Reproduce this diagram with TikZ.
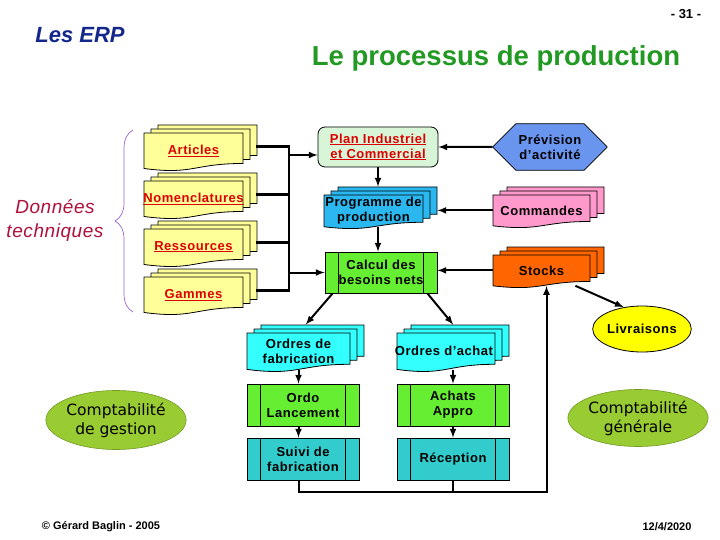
\documentclass[tikz,border=0pt]{standalone}
\usepackage{fontspec}
\setmainfont{Liberation Sans}
\newfontfamily\verdana{DejaVu Sans}
\usetikzlibrary{arrows}
\usetikzlibrary{shapes.geometric,shapes.misc}
\usetikzlibrary{decorations.pathreplacing}
\newcommand\ulab[1]{\textcolor{labred}{\underline{#1}}}

\begin{document}
\begin{tikzpicture}[x=1pt,y=-1pt,
    boxfont/.style={font=\fontsize{13}{15}\selectfont\bfseries\addfontfeatures{LetterSpace=4}},
    stacklayer/.style={draw=black,line width=.8pt},
    stacknode/.style={boxfont,inner sep=0pt,align=center},
    procbox/.style={boxfont,draw,line width=.8pt,minimum width=112,minimum height=42,inner sep=0pt,align=center,
      path picture={\draw[line width=.8pt] ([xshift=13.5pt]path picture bounding box.north west) -- ([xshift=13.5pt]path picture bounding box.south west)
        ([xshift=-13.5pt]path picture bounding box.north east) -- ([xshift=-13.5pt]path picture bounding box.south east);}},
    compta/.style={ellipse,fill=compgreen,draw=compgreen!75!black,line width=.6pt,inner sep=0pt,align=center,
      font=\verdana\fontsize{15.5}{19}\selectfont},
    arr/.style={line width=2pt,-latex},
    busline/.style={line width=2.8pt,line cap=rect}]
    \definecolor{labred}{HTML}{DD0000}
    \definecolor{docyel}{HTML}{FFFF99}
    \definecolor{picgreen}{HTML}{D8F5D8}
    \definecolor{progblue}{HTML}{2BB8F0}
    \definecolor{prevblue}{HTML}{6A95EE}
    \definecolor{cmdpink}{HTML}{FF99CC}
    \definecolor{stkorange}{HTML}{FF6600}
    \definecolor{calcgreen}{HTML}{66EE33}
    \definecolor{ordcyan}{HTML}{33FFFF}
    \definecolor{suiviteal}{HTML}{33CCCC}
    \definecolor{livyellow}{HTML}{FFFF00}
    \definecolor{compgreen}{HTML}{99CC33}
    \definecolor{titlegreen}{HTML}{229922}
    \definecolor{erpblue}{HTML}{14288C}
    \definecolor{techred}{HTML}{B0103A}
    \definecolor{bracecol}{HTML}{9966CC}
    \fill[white] (0,0) rectangle (720,540);
    \useasboundingbox (0,0) rectangle (720,540);

    % en-tete
    \node[font=\fontsize{22}{24}\selectfont\bfseries\itshape,text=erpblue] (erp) at (80,35) {Les ERP};
    \node[font=\fontsize{13}{15}\selectfont\bfseries] (page) at (686,14) {- 31 -};
    \node[font=\fontsize{27.5}{30}\selectfont\bfseries,text=titlegreen] (titre) at (496,58) {Le processus de production};

    % donnees techniques
    \node[font=\fontsize{19}{24}\selectfont\itshape\addfontfeatures{LetterSpace=3},text=techred,align=center] (donnees) at (55,220) {Données\\techniques};
    \draw[bracecol,line width=.7pt,decorate,decoration={brace,amplitude=18pt}] (133,312) -- (133,130);

    % piles de documents
    \foreach \name/\x/\y/\w/\h/\col/\txt in
    {
      art/144/133/99/38/docyel/{\ulab{Articles}},
      nom/144/181/99/38/docyel/{\ulab{Nomenclatures}},
      res/144/229/99/38/docyel/{\ulab{Ressources}},
      gam/144/277/99/38/docyel/{\ulab{Gammes}},
      prog/324/195/99/34/progblue/{Programme de\\production},
      cmd/493/195/97/33/cmdpink/{Commandes},
      stk/493/255/97/33/stkorange/{Stocks},
      ofab/247/333/103/39/ordcyan/{Ordres de\\fabrication},
      oach/397/333/98/39/ordcyan/{Ordres d’achat}
    }
    {
      \foreach \k in {2,1,0}
      {
        \begin{scope}[shift={(\x+7*\k,\y-4*\k)}]
          \filldraw[stacklayer,fill=\col] (0,0) -- (\w,0) -- (\w,0.802*\h) .. controls (0.5*\w,0.802*\h) and (0.5*\w,1.107*\h) .. (0,0.934*\h) -- cycle;
        \end{scope}
      }
      \node[stacknode,minimum width=\w,minimum height=0.933*\h] (\name) at (\x+0.5*\w,\y+0.4665*\h) {\txt};
      \node[inner sep=0pt,minimum width=\w+14,minimum height=0.933*\h+8,anchor=south west] (\name-b) at (\x,\y+0.933*\h) {};
    };

    % boites
    \node[boxfont,draw,line width=.8pt,rounded corners=7pt,fill=picgreen,minimum width=120,minimum height=40,inner sep=0pt,align=center] (pic) at (378,147) {\ulab{Plan Industriel}\\\ulab{et Commercial}};
    \node[boxfont,draw,line width=.8pt,chamfered rectangle,chamfered rectangle xsep=12pt,chamfered rectangle ysep=11pt,fill=prevblue,minimum width=114,minimum height=42,inner sep=0pt,align=center] (prev) at (550,147) {Prévision\\d’activité};
    \node[procbox,fill=calcgreen,minimum height=41] (calc) at (381,272.5) {Calcul des\\besoins nets};
    \node[procbox,fill=calcgreen] (ordo) at (303,405) {Ordo\\Lancement};
    \node[procbox,fill=calcgreen] (achats) at (453,405) {Achats\\Appro};
    \node[procbox,fill=suiviteal] (suivi) at (303,459) {Suivi de\\fabrication};
    \node[procbox,fill=suiviteal] (recep) at (453,459) {Réception};
    \node[ellipse,draw,line width=.8pt,fill=livyellow,minimum width=96,minimum height=46,inner sep=0pt,boxfont] (livr) at (642,329) {Livraisons};
    \node[compta,minimum width=124,minimum height=57] (cgen) at (638,418) {Comptabilité\\générale};
    \node[compta,minimum width=125,minimum height=59] (cges) at (116,420) {Comptabilité\\de gestion};

    % liaisons
    \coordinate (bus) at (289,0);
    \foreach \n in {art,nom,res,gam}
      \draw[busline] (\n-b.east) -- (\n-b.east -| bus);
    \draw[busline] (art-b.east -| bus) -- (gam-b.east -| bus);
    \draw[arr] ([yshift=-8pt]pic.west -| bus) -- ([yshift=-8pt]pic.west);
    \draw[arr] (calc.west -| bus) -- (calc.west);
    \draw[arr] (prev) -- (pic);
    \draw[arr] (cmd.west) -- (cmd.west -| prog-b.east);
    \draw[arr] (stk.west) -- (stk.west -| calc.east);
    \draw[arr] (pic.south) -- (pic.south |- prog-b.north);
    \draw[arr] (pic.south |- prog.south) -- (pic.south |- calc.north);
    \draw[arr] ([xshift=8pt]calc.south west) -- (ofab-b.north);
    \draw[arr] ([xshift=-10pt]calc.south east) -- (oach-b.north);
    \draw[arr] (ofab.south) -- (ofab.south |- ordo.north);
    \draw[arr] (ofab.south |- ordo.south) -- (ofab.south |- suivi.north);
    \draw[arr] (achats.north |- oach.south) -- (achats.north);
    \draw[arr] (achats.south) -- (recep.north);
    \draw[arr] (ofab.south |- suivi.south) |- ([yshift=-12pt]recep.south) -| ([xshift=5pt]stk.south);
    \draw[line width=2pt] (recep.south) -- ([yshift=-12pt]recep.south);
    \draw[arr] ([xshift=-29pt]stk-b.south east) -- (livr.130);

    % pied de page
    \node[font=\fontsize{11}{13}\selectfont\bfseries] (auteur) at (101,527) {© Gérard Baglin - 2005};
    \node[font=\fontsize{11}{13}\selectfont\bfseries] (date) at (667,527) {12/4/2020};
\end{tikzpicture}
\end{document}
